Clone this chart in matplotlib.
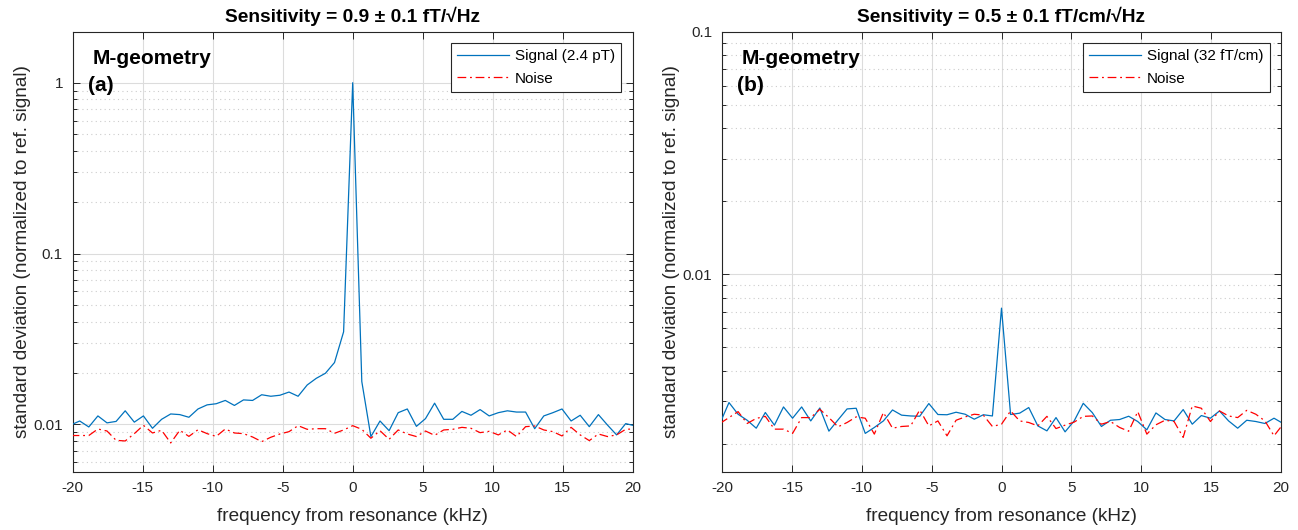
import numpy as np
import matplotlib
matplotlib.use("Agg")
import matplotlib.pyplot as plt
from matplotlib.ticker import FixedLocator, FixedFormatter, LogLocator, NullFormatter

# ---------------- data ----------------
freq_khz = [-20.15, -19.5, -18.85, -18.2, -17.55, -16.9, -16.25, -15.6, -14.95, -14.3,
            -13.65, -13.0, -12.35, -11.7, -11.05, -10.4, -9.75, -9.1, -8.45, -7.8,
            -7.15, -6.5, -5.85, -5.2, -4.55, -3.9, -3.25, -2.6, -1.95, -1.3,
            -0.65, 0.0, 0.65, 1.3, 1.95, 2.6, 3.25, 3.9, 4.55, 5.2,
            5.85, 6.5, 7.15, 7.8, 8.45, 9.1, 9.75, 10.4, 11.05, 11.7,
            12.35, 13.0, 13.65, 14.3, 14.95, 15.6, 16.25, 16.9, 17.55, 18.2,
            18.85, 19.5, 20.15]

signal_a = [0.0099, 0.01046, 0.00965, 0.0112, 0.0102, 0.0104, 0.0120, 0.0103, 0.0112, 0.00948,
            0.0107, 0.0115, 0.0114, 0.0110, 0.0123, 0.0130, 0.0132, 0.0138, 0.0129, 0.0139,
            0.0138, 0.0149, 0.0146, 0.0148, 0.01545, 0.0146, 0.0170, 0.0186, 0.0199, 0.0230,
            0.0348, 1.0, 0.0178, 0.00847, 0.01046, 0.00918, 0.0117, 0.0123, 0.00973, 0.0108,
            0.0133, 0.0107, 0.0107, 0.0119, 0.0113, 0.0122, 0.0112, 0.0117, 0.0120, 0.0118,
            0.0118, 0.00943, 0.0112, 0.0117, 0.0123, 0.01046, 0.0113, 0.00969, 0.0114, 0.0099,
            0.00867, 0.0101, 0.0098]

noise_a = [0.0086, 0.0086, 0.0086, 0.00939, 0.00914, 0.00806, 0.00799, 0.00882, 0.00987, 0.0089,
           0.00923, 0.00778, 0.00923, 0.0085, 0.0093, 0.00882, 0.0085, 0.00939, 0.0089, 0.00882,
           0.00843, 0.00792, 0.0084, 0.00878, 0.00906, 0.00982, 0.00935, 0.00943, 0.00943, 0.00886,
           0.00927, 0.00982, 0.00935, 0.00829, 0.00918, 0.00817, 0.00927, 0.00878, 0.00848, 0.00914,
           0.00862, 0.00927, 0.00935, 0.0096, 0.00948, 0.00894, 0.0091, 0.00867, 0.00927, 0.00848,
           0.00969, 0.00978, 0.00927, 0.00906, 0.00855, 0.0096, 0.00867, 0.00803, 0.00878, 0.00848,
           0.00867, 0.00935, 0.0094]

signal_b = [0.00243, 0.002964, 0.002653, 0.002506, 0.002324, 0.002697, 0.002392, 0.002843, 0.002555, 0.002843,
            0.00249, 0.002815, 0.00226, 0.002514, 0.00279, 0.002808, 0.002212, 0.00234, 0.00249, 0.002763,
            0.00263, 0.00261, 0.002603, 0.002936, 0.002646, 0.00264, 0.002704, 0.002653, 0.002531, 0.00264,
            0.00261, 0.00726, 0.002646, 0.00268, 0.002827, 0.002375, 0.002266, 0.00257, 0.002245, 0.00249,
            0.002943, 0.002693, 0.002362, 0.002506, 0.002523, 0.002603, 0.002476, 0.002288, 0.002686, 0.002523,
            0.00249, 0.002773, 0.002414, 0.00262, 0.002555, 0.002737, 0.00249, 0.002324, 0.002506, 0.002476,
            0.00243, 0.002555, 0.00243]

noise_b = [0.00243, 0.00257, 0.00272, 0.00243, 0.00255, 0.0026, 0.002303, 0.002303, 0.002212, 0.00257,
           0.00257, 0.00278, 0.00257, 0.002354, 0.002453, 0.002587, 0.002555, 0.002197, 0.002697, 0.002324,
           0.002362, 0.002375, 0.002763, 0.002375, 0.00249, 0.002162, 0.002506, 0.002587, 0.002653, 0.00263,
           0.002362, 0.002414, 0.002737, 0.00249, 0.002453, 0.002375, 0.0026, 0.002316, 0.002392, 0.002462,
           0.0026, 0.00261, 0.002414, 0.002476, 0.00234, 0.002258, 0.00272, 0.002197, 0.0024, 0.002506,
           0.002476, 0.00213, 0.00287, 0.002808, 0.002476, 0.002737, 0.00261, 0.00257, 0.002753, 0.002653,
           0.00249, 0.002162, 0.002414]

x_ticks = [-20, -15, -10, -5, 0, 5, 10, 15, 20]
x_ticklabels = ["-20", "-15", "-10", "-5", "0", "5", "10", "15", "20"]
y_ticks_a = [0.01, 0.1, 1]
y_ticklabels_a = ["0.01", "0.1", "1"]
y_ticks_b = [0.01, 0.1]
y_ticklabels_b = ["0.01", "0.1"]

titles = ["Sensitivity = 0.9 \u00b1 0.1 fT/\u221aHz",
          "Sensitivity = 0.5 \u00b1 0.1 fT/cm/\u221aHz"]
signal_labels = ["Signal (2.4 pT)", "Signal (32 fT/cm)"]
panel_tags = ["(a)", "(b)"]

# ---------------- style ----------------
plt.rcParams["font.family"] = ["Liberation Sans", "DejaVu Sans"]
plt.rcParams["axes.unicode_minus"] = False
DARK = "#262626"
BLUE = "#0072BD"
RED = "#FF0000"

W, H = 1298, 530
fig = plt.figure(figsize=(W / 100, H / 100), dpi=100)
bottom = (H - 471.7) / H
height = (471.7 - 31.7) / H
ax1 = fig.add_axes([72.7 / W, bottom, (632.7 - 72.7) / W, height])
ax2 = fig.add_axes([722.0 / W, bottom, (1281.0 - 722.0) / W, height])

panels = [
    (ax1, signal_a, noise_a, (0.00528, 1.99), y_ticks_a, y_ticklabels_a),
    (ax2, signal_b, noise_b, (0.001538, 0.1), y_ticks_b, y_ticklabels_b),
]

for i, (ax, sig, noi, ylim, yt, ytl) in enumerate(panels):
    ax.plot(freq_khz, sig, color=BLUE, lw=0.9, label=signal_labels[i], zorder=3)
    ax.plot(freq_khz, noi, color=RED, lw=0.9, linestyle=(0, (7, 3, 1.5, 3)),
            label="Noise", zorder=3)
    ax.set_yscale("log")
    ax.set_xlim(-20, 20)
    ax.set_ylim(*ylim)
    ax.xaxis.set_major_locator(FixedLocator(x_ticks))
    ax.xaxis.set_major_formatter(FixedFormatter(x_ticklabels))
    ax.yaxis.set_major_locator(FixedLocator(yt))
    ax.yaxis.set_major_formatter(FixedFormatter(ytl))
    ax.yaxis.set_minor_locator(LogLocator(base=10, subs=np.arange(2, 10), numticks=20))
    ax.yaxis.set_minor_formatter(NullFormatter())
    ax.tick_params(which="both", direction="in", top=True, right=True,
                   colors=DARK, labelsize=11, width=0.7)
    ax.tick_params(which="major", length=5, pad=7)
    ax.tick_params(which="minor", length=3)
    ax.set_axisbelow(True)
    ax.grid(which="major", color="#DCDCDC", lw=0.8, ls="-")
    ax.grid(which="minor", axis="y", color="#CCCCCC", lw=0.8, ls=(0, (1, 3)))
    for s in ax.spines.values():
        s.set_color(DARK)
        s.set_linewidth(0.8)
    ax.set_title(titles[i], fontsize=13.8, fontweight="bold", pad=7, color="black")
    ax.set_xlabel("frequency from resonance (kHz)", fontsize=13.7, color=DARK, labelpad=9)
    ax.set_ylabel("standard deviation (normalized to ref. signal)", fontsize=13.7,
                  color=DARK, labelpad=2)
    ax.text(0.036, 0.94, "M-geometry", transform=ax.transAxes, fontsize=15,
            fontweight="bold", ha="left", va="center")
    ax.text(0.027, 0.878, panel_tags[i], transform=ax.transAxes, fontsize=15,
            fontweight="bold", ha="left", va="center")
    leg = ax.legend(loc="upper right", fontsize=11, frameon=True, fancybox=False,
                    edgecolor=DARK, framealpha=1, handlelength=3.4, borderaxespad=0.75,
                    labelspacing=0.55, handletextpad=0.4, borderpad=0.4)
    leg.get_frame().set_linewidth(0.8)

fig.savefig("out.png", dpi=100)
